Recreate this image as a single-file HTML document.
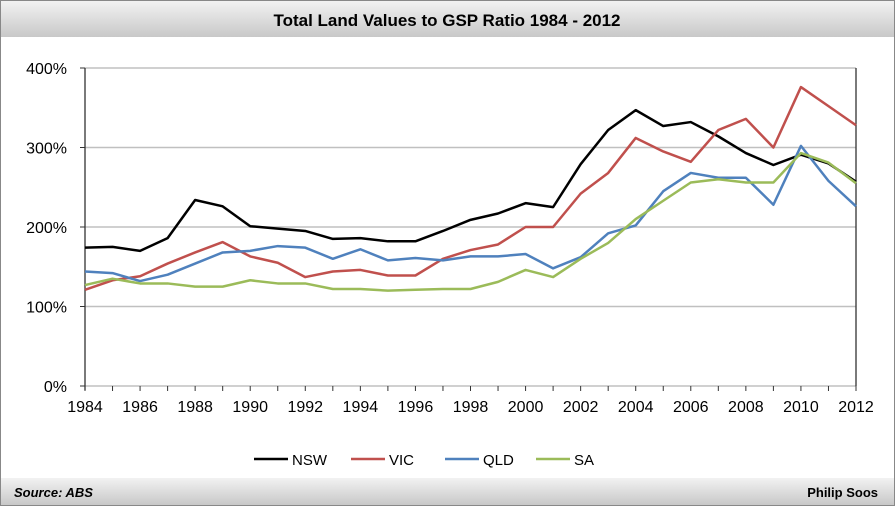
<!DOCTYPE html>
<html><head><meta charset="utf-8"><style>
body{margin:0;background:#fff;font-family:"Liberation Sans",sans-serif}
#wrap{position:relative;width:895px;height:506px;overflow:hidden}
</style></head><body>
<div id="wrap">
<svg id="chart" width="895" height="506">
<defs><linearGradient id="g" x1="0" y1="0" x2="0" y2="1"><stop offset="0" stop-color="#f2f2f2"/><stop offset="1" stop-color="#c8c8c8"/></linearGradient></defs>
<rect x="0.5" y="0.5" width="894" height="505" fill="#fff" stroke="#888"/>
<rect x="1" y="1" width="893" height="36" fill="url(#g)"/>
<text x="447" y="26" text-anchor="middle" font-size="17" font-weight="bold" fill="#000">Total Land Values to GSP Ratio 1984 - 2012</text>
<rect x="1" y="478" width="893" height="27" fill="url(#g)"/>
<text x="14" y="497" font-size="13" font-weight="bold" font-style="italic">Source: ABS</text>
<text x="878" y="497" text-anchor="end" font-size="13" font-weight="bold">Philip Soos</text>
<g id="grid"></g><g id="axes"></g><g id="series"></g><g id="legend"></g>
</svg>
</div>
<script>
const years=[1984,1985,1986,1987,1988,1989,1990,1991,1992,1993,1994,1995,1996,1997,1998,1999,2000,2001,2002,2003,2004,2005,2006,2007,2008,2009,2010,2011,2012];
const nsw=[174,175,170,186,234,226,201,198,195,185,186,182,182,195,209,217,230,225,279,322,347,327,332,314,293,278,291,280,257];
const vic=[121,133,138,154,168,181,163,155,137,144,146,139,139,160,171,178,200,200,242,268,312,295,282,322,336,300,376,352,328];
const qld=[144,142,132,140,154,168,170,176,174,160,172,158,161,158,163,163,166,148,162,192,202,245,268,262,262,228,302,258,226];
const sa=[127,135,129,129,125,125,133,129,129,122,122,120,121,122,122,131,146,137,160,180,210,233,256,260,256,256,293,281,255];
const yTicks=[0,100,200,300,400];
const seriesNames=["NSW","VIC","QLD","SA"];
const NS="http://www.w3.org/2000/svg";
const X0=85,X1=856,Y0=386,Y1=68;
const x=y=>X0+(y-1984)*(X1-X0)/28;
const yv=v=>Y0-v*(Y0-Y1)/400;
function mk(t,a,p){const e=document.createElementNS(NS,t);for(const k in a)e.setAttribute(k,a[k]);p.appendChild(e);return e;}
const grid=document.getElementById('grid'),axes=document.getElementById('axes'),ser=document.getElementById('series'),leg=document.getElementById('legend');
yTicks.forEach(t=>{
 const l=mk('line',{x1:X0,x2:X1,y1:yv(t),y2:yv(t),stroke:'#c0c0c0','stroke-width':1.5},grid);
 
 
 const tx=mk('text',{x:X0-18,y:yv(t)+6,'text-anchor':'end','font-size':16},axes);tx.textContent=t+'%';
 
 
 mk('line',{x1:X0-5,x2:X0,y1:yv(t),y2:yv(t),stroke:'#333'},axes);
});
mk('line',{x1:X0,x2:X0,y1:Y1,y2:Y0+4,stroke:'#333','stroke-width':1.3},axes);
mk('line',{x1:X1,x2:X1,y1:Y1,y2:Y0,stroke:'#333','stroke-width':1.3},axes);
years.forEach(yr=>{
 mk('line',{x1:x(yr),x2:x(yr),y1:Y0,y2:Y0+5,stroke:'#333'},axes);
 if((yr-1984)%2===0){const tx=mk('text',{x:x(yr),y:Y0+26,'text-anchor':'middle','font-size':16},axes);tx.textContent=yr;
 
 }
});
const data=[nsw,vic,qld,sa],cols=['#000000','#c0504d','#4f81bd','#9bbb59'];
data.forEach((d,i)=>{
 const p=mk('polyline',{points:d.map((v,j)=>x(years[j])+','+yv(v)).join(' '),fill:'none',stroke:cols[i],'stroke-width':2.5,'stroke-linejoin':'round'},ser);
 
 
});
const lx=[254,351,445,536];
seriesNames.forEach((n,i)=>{
 const g=mk('g',{},leg);
 
 
 mk('line',{x1:lx[i],x2:lx[i]+34,y1:459,y2:459,stroke:cols[i],'stroke-width':2.5},g);
 const t=mk('text',{x:lx[i]+38,y:465,'font-size':15},g);t.textContent=n;
});
</script>
</body></html>
